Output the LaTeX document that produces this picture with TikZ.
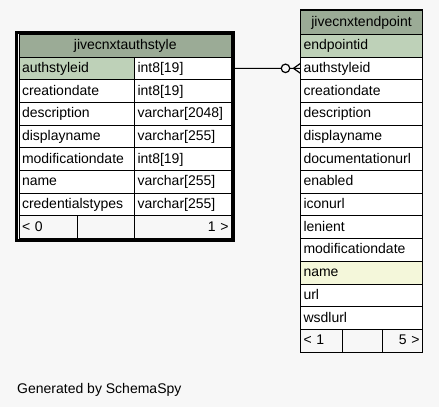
\documentclass[tikz,border=0pt]{standalone}
\usepackage{fontspec}
\setmainfont{Liberation Sans}
\usetikzlibrary{calc}
\definecolor{bgc}{HTML}{F7F7F7}
\definecolor{hdr}{HTML}{9BAB96}
\definecolor{pkc}{HTML}{BED1B8}
\definecolor{idxc}{HTML}{F4F7DA}
\newcommand{\cellfont}{\fontsize{14}{14.5}\selectfont}
\begin{document}
\begin{tikzpicture}[x=1pt,y=-1pt,
  cell/.style={draw=black, line width=1pt, anchor=north west, inner xsep=3pt, inner ysep=0pt,
    outer sep=0pt, minimum height=22.7pt, text height=10.5pt, text depth=2.5pt, font=\cellfont,
    fill=white, align=left},
  lk/.style={cell, text width=109.5pt},
  lt/.style={cell, text width=91pt},
  rc/.style={cell, text width=116pt},
  foot/.style={cell, fill=bgc},
  conn/.style={draw=black, line width=1.2pt}]
\fill[bgc] (0,0) rectangle (439,407);
\useasboundingbox (0,0) rectangle (439,407);

% ---- left table: jivecnxtauthstyle
\draw[line width=3pt] (16.5,32) rectangle (233.5,240.5);
\node[cell, fill=hdr, text width=206.5pt, align=center] (lh) at (19,34.3) {jivecnxtauthstyle};
\node[lk, fill=pkc] (a1) at (19,57.0) {authstyleid};
\node[lt] (a1b) at (134.5,57.0) {int8[19]};
\node[lk] (a2) at (19,79.7) {creationdate};
\node[lt] (a2b) at (134.5,79.7) {int8[19]};
\node[lk] (a3) at (19,102.4) {description};
\node[lt] (a3b) at (134.5,102.4) {varchar[2048]};
\node[lk] (a4) at (19,125.1) {displayname};
\node[lt] (a4b) at (134.5,125.1) {varchar[255]};
\node[lk] (a5) at (19,147.8) {modificationdate};
\node[lt] (a5b) at (134.5,147.8) {int8[19]};
\node[lk] (a6) at (19,170.5) {name};
\node[lt] (a6b) at (134.5,170.5) {varchar[255]};
\node[lk] (a7) at (19,193.2) {credentialstypes};
\node[lt] (a7b) at (134.5,193.2) {varchar[255]};
\node[foot, text width=52.7pt] (af1) at (19,215.9) {< 0};
\node[foot, text width=50.8pt] (af2) at (77.7,215.9) {};
\node[foot, text width=91pt, align=right] (af3) at (134.5,215.9) {1 >};

% ---- right table: jivecnxtendpoint
\draw[line width=1.5pt] (300.5,10) rectangle (422.5,351.8);
\node[rc, fill=hdr, align=center, minimum height=24.3pt] (rh) at (300.5,10) {jivecnxtendpoint};
\node[rc, fill=pkc] (r1) at (300.5,34.3) {endpointid};
\node[rc] (r2) at (300.5,57.0) {authstyleid};
\node[rc] (r3) at (300.5,79.7) {creationdate};
\node[rc] (r4) at (300.5,102.4) {description};
\node[rc] (r5) at (300.5,125.1) {displayname};
\node[rc] (r6) at (300.5,147.8) {documentationurl};
\node[rc] (r7) at (300.5,170.5) {enabled};
\node[rc] (r8) at (300.5,193.2) {iconurl};
\node[rc] (r9) at (300.5,215.9) {lenient};
\node[rc] (r10) at (300.5,238.6) {modificationdate};
\node[rc, fill=idxc] (r11) at (300.5,261.3) {name};
\node[rc] (r12) at (300.5,284.0) {url};
\node[rc] (r13) at (300.5,306.7) {wsdlurl};
\node[foot, text width=36.2pt] (rf1) at (300.5,329.4) {< 1};
\node[foot, text width=34pt] (rf2) at (342.7,329.4) {};
\node[foot, text width=33.8pt, align=right] (rf3) at (382.7,329.4) {5 >};

% ---- connector
\node[circle, draw=black, line width=1.2pt, fill=bgc, minimum size=8.5pt, inner sep=0pt, outer sep=0pt]
  (odot) at (285.5,68.35) {};
\coordinate (cfv) at (293.5,68.35);
\draw[conn] (a1b.east) -- (odot.west);
\draw[conn] (odot.east) -- (r2.west);
\draw[conn] (cfv) -- ($(r2.west)+(0,-5)$);
\draw[conn] (cfv) -- ($(r2.west)+(0,5)$);

% ---- footer text
\node[anchor=base west, inner sep=0pt, font=\cellfont] (gen) at (17,393) {Generated by SchemaSpy};
\end{tikzpicture}
\end{document}
